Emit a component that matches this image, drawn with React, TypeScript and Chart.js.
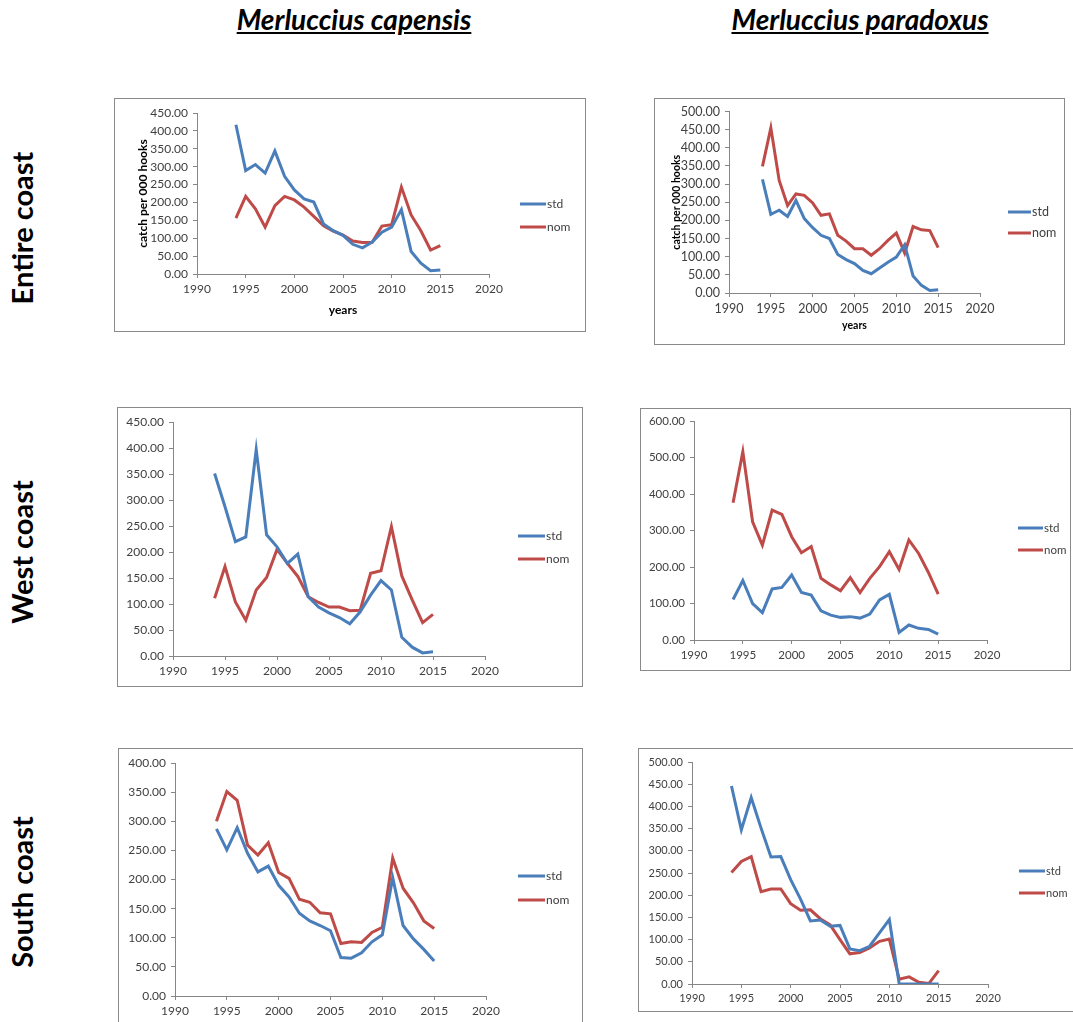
import React, { useEffect, useRef } from "react";
import { Chart, registerables } from "chart.js";

Chart.register(...registerables);

// ---------- data ----------
const years = [1994, 1995, 1996, 1997, 1998, 1999, 2000, 2001, 2002, 2003, 2004, 2005, 2006, 2007, 2008, 2009, 2010, 2011, 2012, 2013, 2014, 2015];

const capEntireStd = [417, 289, 306, 282, 344, 273, 235, 210, 201, 140, 121, 108, 83, 73, 89, 117, 131, 180, 63, 30, 9, 11];
const capEntireNom = [156, 217, 182, 131, 191, 217, 207, 187, 161, 135, 120, 109, 92, 88, 89, 134, 138, 243, 165, 121, 67, 79];
const parEntireStd = [313, 217, 228, 211, 255, 205, 180, 159, 150, 106, 92, 81, 62, 53, 69, 85, 99, 133, 47, 21, 7, 9];
const parEntireNom = [349, 455, 310, 241, 273, 269, 248, 214, 218, 159, 143, 122, 122, 104, 122, 145, 165, 110, 183, 174, 172, 125];
const capWestStd = [351, 287, 220, 229, 397, 233, 210, 178, 196, 114, 94, 83, 74, 62, 85, 117, 145, 127, 36, 17, 6, 8];
const capWestNom = [111, 172, 104, 69, 127, 151, 205, 178, 153, 114, 103, 94, 94, 87, 88, 159, 164, 249, 154, 108, 64, 80];
const parWestStd = [111, 163, 100, 75, 140, 144, 178, 130, 123, 80, 68, 62, 64, 60, 71, 110, 125, 21, 41, 32, 29, 16];
const parWestNom = [376, 516, 324, 260, 356, 344, 283, 239, 256, 169, 151, 135, 171, 130, 169, 201, 242, 193, 274, 237, 185, 126];
const capSouthStd = [287, 251, 289, 245, 213, 223, 190, 170, 142, 129, 121, 112, 66, 65, 74, 93, 105, 203, 121, 98, 80, 60];
const capSouthNom = [300, 351, 336, 259, 242, 263, 212, 202, 166, 161, 143, 141, 90, 93, 92, 109, 118, 237, 185, 160, 129, 116];
const parSouthStd = [446, 347, 420, 351, 286, 287, 235, 191, 142, 144, 130, 132, 79, 75, 85, 115, 145, 0, 0, 0, 0, 0];
const parSouthNom = [251, 276, 287, 208, 214, 214, 181, 166, 167, 147, 133, 100, 68, 71, 81, 96, 101, 11, 16, 4, 1, 30];

const seriesLabels = ["std", "nom"];
const seriesColors = ["#4A7EBB", "#BE4B48"];
const columnTitles = ["Merluccius capensis", "Merluccius paradoxus"];
const rowTitles = ["Entire coast", "West coast", "South coast"];
const xMin = 1990;
const xMax = 2020;
const xStep = 5;
const yMaxes = [450, 500, 450, 600, 400, 500];
const ySteps = [50, 50, 50, 100, 50, 50];
const yAxisTitle = "catch per 000 hooks";
const xAxisTitle = "years";

// ---------- layout (page coordinates) ----------
type PanelCfg = {
  box: [number, number, number, number]; // left, top, right, bottom
  plot: [number, number, number, number]; // left, right, top, bottom
  legend: { x1: number; x2: number; ys: [number, number] };
  std: number[];
  nom: number[];
  yMax: number;
  yStep: number;
  tickSize: number;
  titles?: { size: number; yTitleX: number; xTitleY: number };
};

const panels: PanelCfg[] = [
  {
    box: [114, 98, 586, 332], plot: [197, 489, 113, 274],
    legend: { x1: 520, x2: 546, ys: [204, 227] },
    std: capEntireStd, nom: capEntireNom, yMax: yMaxes[0], yStep: ySteps[0], tickSize: 12,
    titles: { size: 12, yTitleX: 143, xTitleY: 310 },
  },
  {
    box: [654, 98, 1065, 345], plot: [729, 980, 111, 293],
    legend: { x1: 1008, x2: 1031, ys: [212, 233] },
    std: parEntireStd, nom: parEntireNom, yMax: yMaxes[1], yStep: ySteps[1], tickSize: 12.5,
    titles: { size: 10.5, yTitleX: 677, xTitleY: 326 },
  },
  {
    box: [117, 407, 583, 687], plot: [173, 485, 422, 656],
    legend: { x1: 518, x2: 545, ys: [536, 559] },
    std: capWestStd, nom: capWestNom, yMax: yMaxes[2], yStep: ySteps[2], tickSize: 12,
  },
  {
    box: [640, 408, 1071, 671], plot: [694, 987, 421, 640],
    legend: { x1: 1018, x2: 1043, ys: [528, 550] },
    std: parWestStd, nom: parWestNom, yMax: yMaxes[3], yStep: ySteps[3], tickSize: 11.5,
  },
  {
    box: [118, 748, 583, 1040], plot: [175, 486, 763, 996],
    legend: { x1: 518, x2: 545, ys: [876, 900] },
    std: capSouthStd, nom: capSouthNom, yMax: yMaxes[4], yStep: ySteps[4], tickSize: 12,
  },
  {
    box: [638, 748, 1080, 1012], plot: [692, 988, 762, 984],
    legend: { x1: 1019, x2: 1045, ys: [871, 893] },
    std: parSouthStd, nom: parSouthNom, yMax: yMaxes[5], yStep: ySteps[5], tickSize: 11,
  },
];

const FONT = "Lato, 'Open Sans', sans-serif";
const AXIS_COLOR = "#868686";
const TEXT_COLOR = "#404040";

const sideLegend = {
  id: "sideLegend",
  afterDraw(chart: any, _args: any, opts: any) {
    const ctx = chart.ctx;
    chart.data.datasets.forEach((ds: any, i: number) => {
      const y = opts.ys[i];
      ctx.save();
      ctx.strokeStyle = ds.borderColor;
      ctx.lineWidth = 3;
      ctx.lineCap = "butt";
      ctx.beginPath();
      ctx.moveTo(opts.x1, y);
      ctx.lineTo(opts.x2, y);
      ctx.stroke();
      ctx.fillStyle = TEXT_COLOR;
      ctx.font = `${opts.size}px ${FONT}`;
      ctx.textAlign = "left";
      ctx.textBaseline = "middle";
      ctx.fillText(ds.label, opts.x2 + 1, y);
      ctx.restore();
    });
  },
};

function Panel({ cfg }: { cfg: PanelCfg }) {
  const ref = useRef<HTMLCanvasElement | null>(null);
  const [bl, bt, br, bb] = cfg.box;
  const bw = br - bl;
  const bh = bb - bt;
  const cw = bw - 2;
  const ch = bh - 2;

  useEffect(() => {
    const ox = bl + 1;
    const oy = bt + 1;
    const plotL = cfg.plot[0] - ox;
    const plotR = cfg.plot[1] - ox;
    const plotT = cfg.plot[2] - oy;
    const plotB = cfg.plot[3] - oy;
    const t = cfg.titles;
    const titleLH = t ? t.size * 1.2 : 0;

    const chart = new Chart(ref.current as HTMLCanvasElement, {
      type: "line",
      data: {
        datasets: [cfg.std, cfg.nom].map((vals, i) => ({
          label: seriesLabels[i],
          data: years.map((yr, k) => ({ x: yr, y: vals[k] })),
          borderColor: seriesColors[i],
          backgroundColor: seriesColors[i],
          borderWidth: 3,
          pointRadius: 0,
          tension: 0,
          fill: false,
        })),
      },
      options: {
        responsive: false,
        animation: false,
        devicePixelRatio: 1,
        layout: { padding: { top: plotT, right: cw - plotR, left: 0, bottom: 0 } },
        plugins: {
          legend: { display: false },
          tooltip: { enabled: false },
          sideLegend: {
            x1: cfg.legend.x1 - ox,
            x2: cfg.legend.x2 - ox,
            ys: cfg.legend.ys.map((v) => v - oy),
            size: cfg.tickSize,
          },
        } as any,
        scales: {
          x: {
            type: "linear",
            min: xMin,
            max: xMax,
            ticks: {
              stepSize: xStep,
              callback: (v: any) => String(v),
              font: { family: FONT, size: cfg.tickSize },
              color: TEXT_COLOR,
              padding: 4,
              maxRotation: 0,
            },
            grid: { display: true, drawOnChartArea: false, drawTicks: true, tickLength: 4, color: AXIS_COLOR },
            border: { display: true, color: AXIS_COLOR, width: 1 },
            title: t
              ? {
                  display: true,
                  text: xAxisTitle,
                  color: "#000",
                  font: { family: FONT, size: t.size, weight: "bold" },
                  padding: { top: 0, bottom: ch - (t.xTitleY - oy) - titleLH / 2 },
                }
              : { display: false },
            afterFit: (s: any) => {
              s.height = ch - plotB;
            },
          },
          y: {
            type: "linear",
            min: 0,
            max: cfg.yMax,
            ticks: {
              stepSize: cfg.yStep,
              callback: (v: any) => Number(v).toFixed(2),
              font: { family: FONT, size: cfg.tickSize },
              color: TEXT_COLOR,
              padding: 5,
            },
            grid: { display: true, drawOnChartArea: false, drawTicks: true, tickLength: 4, color: AXIS_COLOR },
            border: { display: true, color: AXIS_COLOR, width: 1 },
            title: t
              ? {
                  display: true,
                  text: yAxisTitle,
                  color: "#000",
                  font: { family: FONT, size: t.size, weight: "bold" },
                  padding: { top: t.yTitleX - ox - titleLH / 2, bottom: 0 },
                }
              : { display: false },
            afterFit: (s: any) => {
              s.width = plotL;
            },
          },
        },
      } as any,
      plugins: [sideLegend],
    });
    return () => chart.destroy();
  }, []);

  return (
    <div
      style={{
        position: "absolute",
        left: bl,
        top: bt,
        width: bw,
        height: bh,
        border: "1px solid #8a8a8a",
        boxSizing: "border-box",
        background: "#fff",
      }}
    >
      <canvas ref={ref} width={cw} height={ch} style={{ display: "block", width: cw, height: ch }} />
    </div>
  );
}

const colCenters = [354, 860];
const rowCenters = [228, 552, 892];

export default function App() {
  return (
    <div
      style={{
        position: "absolute",
        left: 0,
        top: 0,
        width: 1073,
        height: 1022,
        overflow: "hidden",
        background: "#fff",
        fontFamily: FONT,
      }}
    >
      {columnTitles.map((txt, i) => (
        <div
          key={txt}
          style={{
            position: "absolute",
            left: colCenters[i] - 200,
            top: 4,
            width: 400,
            textAlign: "center",
            fontSize: 28,
            lineHeight: "30px",
            fontWeight: "bold",
            fontStyle: "italic",
            textDecoration: "underline",
            color: "#000",
          }}
        >
          {txt}
        </div>
      ))}
      {rowTitles.map((txt, i) => (
        <div
          key={txt}
          style={{
            position: "absolute",
            left: 22 - 100,
            top: rowCenters[i] - 20,
            width: 200,
            height: 40,
            lineHeight: "40px",
            textAlign: "center",
            fontSize: 29,
            fontWeight: "bold",
            color: "#000",
            transform: "rotate(-90deg)",
            whiteSpace: "nowrap",
          }}
        >
          {txt}
        </div>
      ))}
      {panels.map((p, i) => (
        <Panel key={i} cfg={p} />
      ))}
    </div>
  );
}
